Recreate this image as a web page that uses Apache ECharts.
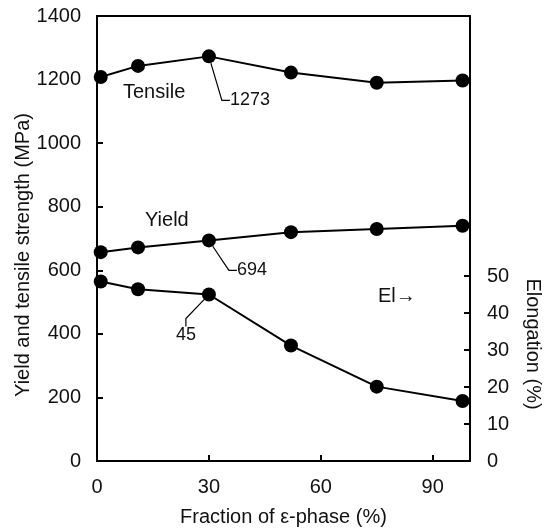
<!DOCTYPE html>
<html>
<head>
<meta charset="UTF-8">
<title></title>
<script src="https://cdn.jsdelivr.net/npm/echarts@6/dist/echarts.min.js"></script>
<style>
  body { margin: 0; background: #fff; }
  #chart { width: 547px; height: 529px; }
</style>
</head>
<body>
<div id="chart"></div>
<script type="text/javascript">
var fraction = [1, 11, 30, 52, 75, 98];
var tensile = [1208, 1243, 1273, 1222, 1190, 1197];
var yieldStr = [657, 672, 694, 720, 730, 740];
var elong = [48.5, 46.4, 45, 31.2, 20.1, 16.2];
var xTicks = [0, 30, 60, 90];

var font = 'Liberation Sans, Arial, sans-serif';

function pairs(ys, callout) {
    return fraction.map(function (x, i) {
        var item = { value: [x, ys[i]] };
        if (callout === i) {
            item.label = { show: true, formatter: String(ys[i]) };
            item.labelLine = { show: true };
        }
        return item;
    });
}

var common = {
    type: 'line',
    symbol: 'circle',
    symbolSize: 14,
    itemStyle: { color: '#000' },
    lineStyle: { color: '#000', width: 2 },
    silent: true,
    label: { show: false, color: '#111', fontSize: 18, fontFamily: font },
    labelLine: { lineStyle: { color: '#000', width: 1.2 }, length2: 8 }
};

var axisText = { fontSize: 20, color: '#111', fontFamily: font };
var tick = { show: true, inside: true, length: 6, lineStyle: { color: '#000', width: 2 } };

var chart = echarts.init(document.getElementById('chart'));
chart.setOption({
    animation: false,
    grid: [
        { left: 97, right: 77, top: 16, bottom: 68, outerBoundsMode: 'none', containLabel: false,
          show: true, borderColor: '#000', borderWidth: 2 },
        { left: 97, right: 77, top: 276, bottom: 68, outerBoundsMode: 'none', containLabel: false }
    ],
    xAxis: [{
        gridIndex: 0, type: 'value', min: 0, max: 100, interval: 30,
        name: 'Fraction of ε-phase (%)', nameLocation: 'middle', nameGap: 46,
        nameTextStyle: { fontSize: 20, color: '#111', fontFamily: font },
        axisLine: { lineStyle: { color: '#000', width: 2 } },
        axisTick: tick,
        axisLabel: echarts.util.extend({ margin: 16,
            formatter: function (v) { return xTicks.indexOf(v) >= 0 ? v : ''; } }, axisText),
        splitLine: { show: false }
    }, {
        gridIndex: 1, type: 'value', min: 0, max: 100, show: false
    }],
    yAxis: [{
        gridIndex: 0, type: 'value', min: 0, max: 1400, interval: 200,
        axisLine: { show: true, lineStyle: { color: '#000', width: 2 } },
        axisTick: tick,
        axisLabel: echarts.util.extend({ margin: 16,
            formatter: function (v) { return String(v); } }, axisText),
        splitLine: { show: false }
    }, {
        gridIndex: 1, type: 'value', min: 0, max: 50, interval: 10, position: 'right',
        axisLine: { show: true, onZero: false, lineStyle: { color: '#000', width: 2 } },
        axisTick: tick,
        axisLabel: echarts.util.extend({ margin: 17 }, axisText),
        splitLine: { show: false }
    }],
    graphic: [
        { type: 'text', x: 23, y: 255, rotation: Math.PI / 2,
          style: { text: 'Yield and tensile strength (MPa)', fontSize: 20, fill: '#111', fontFamily: font, align: 'center', verticalAlign: 'middle' } },
        { type: 'text', x: 533, y: 344, rotation: -Math.PI / 2,
          style: { text: 'Elongation (%)', fontSize: 20, fill: '#111', fontFamily: font, align: 'center', verticalAlign: 'middle' } },
        { type: 'text', left: 123, top: 82, style: { text: 'Tensile', fontSize: 20, fill: '#111', fontFamily: font } },
        { type: 'text', left: 145, top: 210, style: { text: 'Yield', fontSize: 20, fill: '#111', fontFamily: font } },
        { type: 'text', left: 378, top: 286, style: { text: 'El→', fontSize: 20, fill: '#111', fontFamily: font } }
    ],
    series: [
        echarts.util.merge({
            name: 'Tensile', xAxisIndex: 0, yAxisIndex: 0, data: pairs(tensile, 2),
            labelLayout: function (p) { return p.dataIndex === 2 ? { dx: 41, dy: 65 } : {}; }
        }, common),
        echarts.util.merge({
            name: 'Yield', xAxisIndex: 0, yAxisIndex: 0, data: pairs(yieldStr, 2),
            labelLayout: function (p) { return p.dataIndex === 2 ? { dx: 43, dy: 51 } : {}; }
        }, common),
        echarts.util.merge({
            name: 'El', xAxisIndex: 1, yAxisIndex: 1, data: pairs(elong, 2),
            labelLayout: function (p) { return p.dataIndex === 2 ? { dx: -23, dy: 62 } : {}; }
        }, common)
    ]
});
</script>
</body>
</html>
